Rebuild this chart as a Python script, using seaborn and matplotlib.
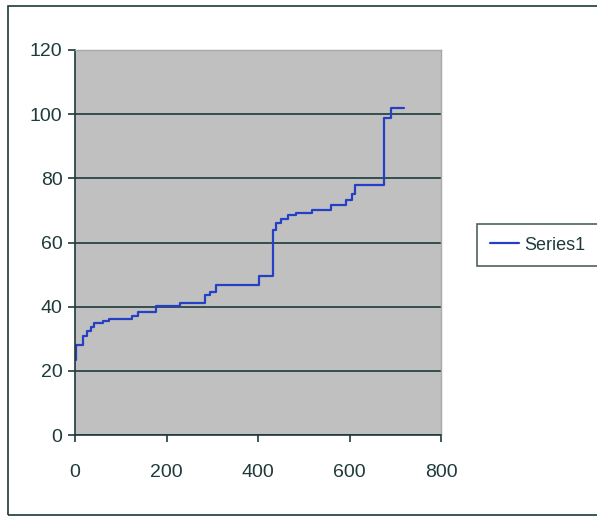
import matplotlib
matplotlib.use("Agg")
import matplotlib.pyplot as plt
from matplotlib.patches import Rectangle
import seaborn as sns
import pandas as pd

# step points (x where the step starts, value after it)
x_vals = [2, 3, 18, 27, 34, 41, 62, 75, 124, 138, 177, 229, 284, 295, 309,
          402, 433, 440, 451, 466, 484, 517, 560, 593, 605, 612, 675, 691, 720]
y_vals = [23.5, 28, 31, 32.3, 33.8, 35, 35.6, 36.1, 37.2, 38.2, 40.3, 41.2, 43.6, 44.7, 46.8,
          49.5, 64, 66, 67.3, 68.6, 69.2, 70.2, 71.7, 73.3, 75, 77.8, 98.7, 101.8, 101.8]
series_name = "Series1"
x_ticks = [0, 200, 400, 600, 800]
y_ticks = [0, 20, 40, 60, 80, 100, 120]

df = pd.DataFrame({"x": x_vals, "y": y_vals})

sns.set_theme(style="white")
plt.rcParams["font.family"] = ["Liberation Sans", "DejaVu Sans"]
ink = "#1f3a3a"

fig = plt.figure(figsize=(5.97, 5.17), dpi=100)
ax = fig.add_axes([75 / 597, 1 - 435 / 517, 366 / 597, 385 / 517])
ax.set_facecolor("#c0c0c0")

sns.lineplot(data=df, x="x", y="y", ax=ax, color="#2540c4", linewidth=1.6,
             drawstyle="steps-post", sort=False, estimator=None, label=series_name)

ax.set_xlim(0, 800)
ax.set_ylim(0, 120)
ax.set_xticks(x_ticks)
ax.set_yticks(y_ticks)
ax.set_xlabel("")
ax.set_ylabel("")
ax.yaxis.grid(True, color=ink, linewidth=1.2)
ax.xaxis.grid(False)
ax.set_axisbelow(True)

for side in ["top", "right"]:
    ax.spines[side].set_color("#a8a8a8")
    ax.spines[side].set_linewidth(1)
for side in ["left", "bottom"]:
    ax.spines[side].set_color(ink)
    ax.spines[side].set_linewidth(1.2)

ax.tick_params(axis="y", direction="out", length=5, width=1.2, color=ink,
               labelsize=14, labelcolor=ink, pad=4, left=True)
ax.tick_params(axis="x", direction="out", length=5, width=1.2, color=ink,
               labelsize=14, labelcolor=ink, pad=16, bottom=True)

leg = ax.legend(loc="center left", bbox_to_anchor=(477 / 597, 1 - 245 / 517),
                bbox_transform=fig.transFigure, frameon=True, fancybox=False,
                fontsize=13, handlelength=1.6, handletextpad=0.3,
                borderpad=0.7, borderaxespad=0, labelcolor=ink)
leg.get_frame().set_edgecolor(ink)
leg.get_frame().set_linewidth(1.2)

# outer chart frame, right side runs past the picture edge
fig.patches.append(Rectangle((8 / 597, 2 / 517), 1.2, 509 / 517, transform=fig.transFigure,
                             fill=False, edgecolor=ink, linewidth=1.2))

fig.savefig("out.png", dpi=100)
